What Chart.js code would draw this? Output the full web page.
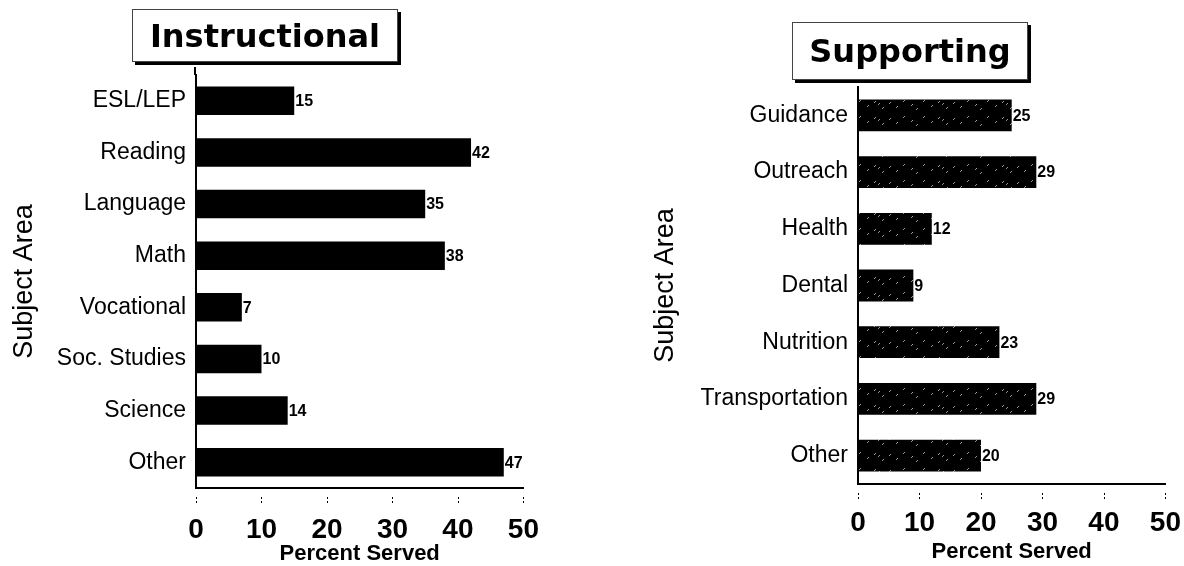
<!DOCTYPE html>
<html>
<head>
<meta charset="utf-8">
<script src="https://cdn.jsdelivr.net/npm/chart.js@4/dist/chart.umd.min.js"></script>
<style>
body{margin:0;background:#fff;width:1184px;height:566px;position:relative;overflow:hidden}
canvas{position:absolute;top:0}
.ttl{position:absolute;box-sizing:border-box;border:1px solid #444;box-shadow:3px 3px 0 #000;background:#fff;
 font:bold 32px "DejaVu Sans",sans-serif;color:#000;display:flex;align-items:center;justify-content:center;z-index:2}
</style>
</head>
<body>
<div class="ttl" style="left:132px;top:9px;width:266px;height:53px">Instructional</div>
<div class="ttl" style="left:792px;top:22px;width:236px;height:58px">Supporting</div>
<canvas id="left" width="567" height="566" style="left:0"></canvas>
<canvas id="right" width="606" height="566" style="left:600px"></canvas>
<script>
const instrLabels=["ESL/LEP","Reading","Language","Math","Vocational","Soc. Studies","Science","Other"];
const instrValues=[15,42,35,38,7,10,14,47];
const supportLabels=["Guidance","Outreach","Health","Dental","Nutrition","Transportation","Other"];
const supportValues=[25,29,12,9,23,29,20];
const xTickValues=[0,10,20,30,40,50];
const axisTitleX="Percent Served",axisTitleY="Subject Area";

function speckle(){
  const c=document.createElement("canvas");c.width=64;c.height=16;
  const g=c.getContext("2d");g.fillStyle="#000";g.fillRect(0,0,64,16);
  g.strokeStyle="#999";g.lineWidth=1;
  [[3,4],[11,9],[18,5],[26,11],[33,6],[40,10],[47,4],[55,8],[60,12],[22,7]].forEach(([x,y])=>{
    g.beginPath();g.moveTo(x,y+2);g.lineTo(x+2,y);g.stroke();
  });
  return g.createPattern(c,"repeat");
}

const valueLabels={id:"valueLabels",afterDatasetsDraw(chart){
  const ctx=chart.ctx,vals=chart.data.datasets[0].data;
  ctx.save();ctx.font="bold 16px 'Liberation Sans',Arial,sans-serif";ctx.fillStyle="#000";
  ctx.textAlign="left";ctx.textBaseline="middle";
  chart.getDatasetMeta(0).data.forEach((bar,i)=>ctx.fillText(vals[i],bar.x+1,bar.y+1));
  ctx.restore();
}};
const tickMarks={id:"tickMarks",afterDraw(chart){
  const s=chart.scales.x,y=chart.scales.y,ctx=chart.ctx,ext=chart.options.axisExt||0;
  ctx.save();ctx.strokeStyle="#000";
  if(ext){ctx.lineWidth=2;ctx.beginPath();ctx.moveTo(y.right-1,y.top);ctx.lineTo(y.right-1,y.top-ext);ctx.stroke();}
  ctx.lineWidth=1;ctx.setLineDash([2,2]);
  xTickValues.forEach(v=>{const x=Math.round(s.getPixelForValue(v))+0.5;
    ctx.beginPath();ctx.moveTo(x,s.top+9);ctx.lineTo(x,s.top+16);ctx.stroke();});
  ctx.restore();
}};

function makeChart(id,labels,values,c){
  return new Chart(document.getElementById(id),{
    type:"bar",
    data:{labels:labels,datasets:[{data:values,backgroundColor:c.fill,borderWidth:0,barPercentage:c.barPct,categoryPercentage:1}]},
    options:{indexAxis:"y",responsive:false,animation:false,axisExt:c.ext,
      layout:{padding:{top:c.top,right:0,left:0,bottom:0}},
      plugins:{legend:{display:false},tooltip:{enabled:false}},
      scales:{
        x:{type:"linear",min:0,max:50,afterBuildTicks:s=>{s.ticks=xTickValues.map(v=>({value:v}));},
          ticks:{color:"#000",padding:c.xPad,font:{family:"'Liberation Sans',Arial,sans-serif",size:28,weight:"bold",lineHeight:1}},
          grid:{display:false,drawTicks:false},border:{display:true,color:"#000",width:2},
          title:{display:true,text:axisTitleX,color:"#000",padding:{top:0,bottom:c.xTitlePad},font:{family:"'Liberation Sans',Arial,sans-serif",size:22,weight:"bold",lineHeight:1}},
          afterFit:s=>{s.height=c.xH;}},
        y:{ticks:{color:"#000",padding:10,font:{family:"'Liberation Sans',Arial,sans-serif",size:23}},
          grid:{display:false,drawTicks:false},border:{display:true,color:"#000",width:2},
          title:{display:true,text:axisTitleY,color:"#000",padding:{top:c.yTitlePad,bottom:0},font:{family:"'Liberation Sans',Arial,sans-serif",size:27,lineHeight:1}},
          afterFit:s=>{s.width=c.yW;}}
      }},
    plugins:[valueLabels,tickMarks]
  });
}

makeChart("left",instrLabels,instrValues,{fill:"#000",barPct:0.55,top:75,ext:8,xPad:28,xH:78,xTitlePad:1,yW:196,yTitlePad:11});
makeChart("right",supportLabels,supportValues,{fill:speckle(),barPct:0.56,top:87,ext:0,xPad:25,xH:82,xTitlePad:3,yW:258,yTitlePad:52});
</script>
</body>
</html>
